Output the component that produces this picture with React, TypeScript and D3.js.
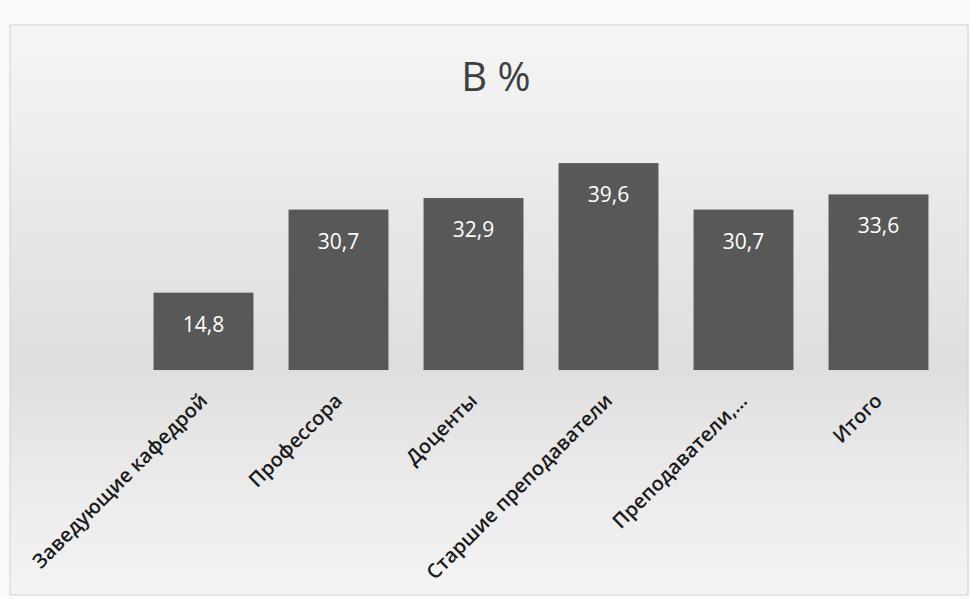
import React from "react";
import * as d3 from "d3";

const categories = [
  "Заведующие кафедрой",
  "Профессора",
  "Доценты",
  "Старшие преподаватели",
  "Преподаватели,...",
  "Итого",
];
const values = [14.8, 30.7, 32.9, 39.6, 30.7, 33.6];
const valueLabels = ["14,8", "30,7", "32,9", "39,6", "30,7", "33,6"];
const title = "В %";

const W = 970;
const H = 599;

export default function App() {
  const x = d3
    .scaleBand<string>()
    .domain(categories)
    .range([136, 946])
    .paddingInner(0.26)
    .paddingOuter(0.13);
  const y = d3.scaleLinear().domain([0, 40]).range([370, 161]);
  const font = "'Open Sans', 'DejaVu Sans', sans-serif";

  return (
    <svg
      width={W}
      height={H}
      style={{ position: "absolute", left: 0, top: 0 }}
    >
      <defs>
        <linearGradient id="bg" x1="0" y1="0" x2="0" y2="1">
          <stop offset="0" stopColor="#f6f6f6" />
          <stop offset="0.3" stopColor="#e9e9e9" />
          <stop offset="0.6" stopColor="#dedede" />
          <stop offset="0.75" stopColor="#e8e8e8" />
          <stop offset="1" stopColor="#f4f4f4" />
        </linearGradient>
      </defs>
      <rect x={0} y={0} width={W} height={H} fill="#fafafa" />
      <rect
        x={10}
        y={25}
        width={958}
        height={570}
        fill="url(#bg)"
        stroke="#cfcfcf"
        strokeWidth={1}
      />
      <text
        x={496}
        y={91}
        textAnchor="middle"
        fontFamily={font}
        fontSize={40}
        fill="#3f3f3f"
      >
        {title}
      </text>
      {categories.map((c, i) => (
        <g key={c}>
          <rect
            x={x(c)}
            y={y(values[i])}
            width={x.bandwidth()}
            height={y(0) - y(values[i])}
            fill="#585858"
          />
          <text
            x={(x(c) as number) + x.bandwidth() / 2}
            y={y(values[i]) + 39}
            textAnchor="middle"
            fontFamily={font}
            fontSize={21}
            fill="#ffffff"
          >
            {valueLabels[i]}
          </text>
          <text
            transform={`translate(${(x(c) as number) + x.bandwidth() / 2 + 5},${y(0) + 32}) rotate(-45)`}
            textAnchor="end"
            fontFamily={font}
            fontSize={20}
            fontWeight={600}
            fill="#1a1a1a"
          >
            {c}
          </text>
        </g>
      ))}
    </svg>
  );
}
